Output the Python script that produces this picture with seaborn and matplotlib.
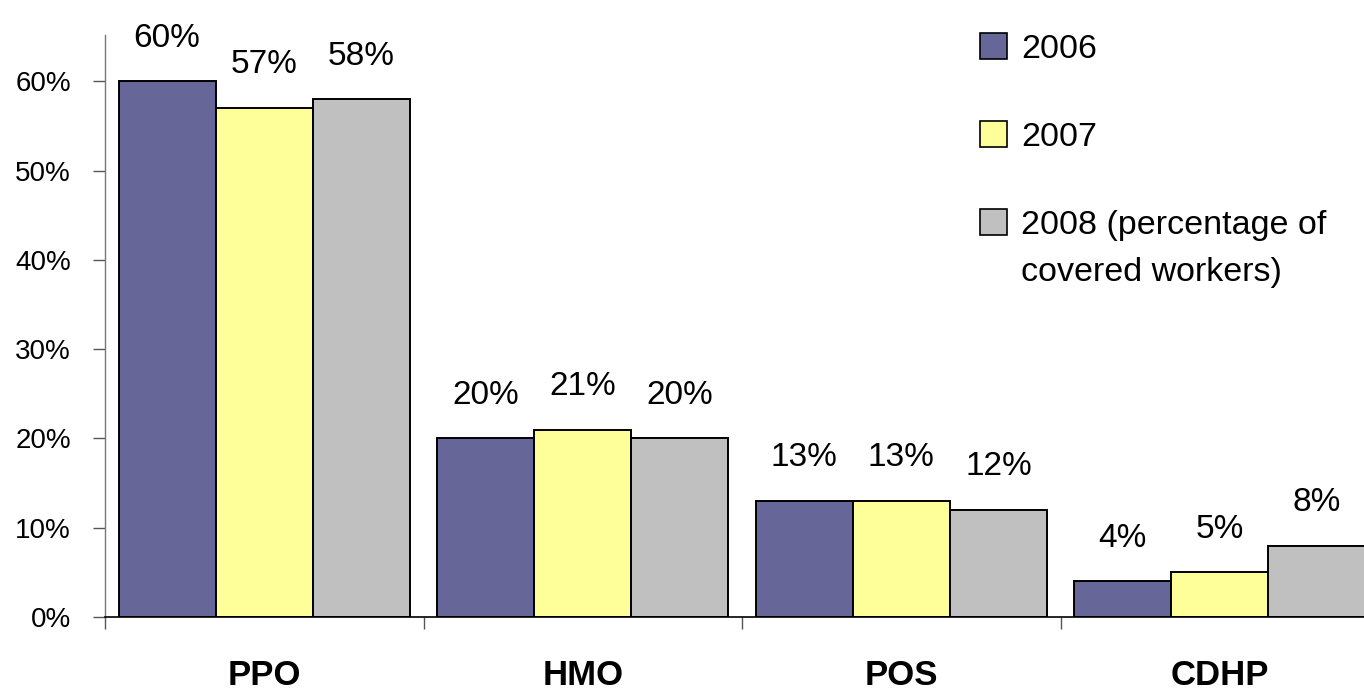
import matplotlib
matplotlib.use("Agg")
import matplotlib.pyplot as plt
import seaborn as sns
import pandas as pd
from matplotlib.patches import Patch
from matplotlib.ticker import PercentFormatter
from matplotlib.transforms import blended_transform_factory

plans = ["PPO", "HMO", "POS", "CDHP"]
years = ["2006", "2007", "2008"]
legend_labels = ["2006", "2007", "2008 (percentage of"]
legend_note = "covered workers)"
share_2006 = [60, 20, 13, 4]
share_2007 = [57, 21, 13, 5]
share_2008 = [58, 20, 12, 8]
colors = ["#666699", "#FFFF99", "#C0C0C0"]

rows = []
for year, vals in zip(years, [share_2006, share_2007, share_2008]):
    for plan, v in zip(plans, vals):
        rows.append({"plan": plan, "year": year, "share": v})
df = pd.DataFrame(rows)

sns.set_theme(style="white")
plt.rcParams["font.family"] = ["Liberation Sans", "DejaVu Sans"]
plt.rcParams["text.color"] = "black"
plt.rcParams["xtick.color"] = "black"
plt.rcParams["ytick.color"] = "black"

fig = plt.figure(figsize=(13.64, 6.92), dpi=100)
ax = fig.add_axes([0.077, 0.1084, 0.934, 0.841])

sns.barplot(data=df, x="plan", y="share", hue="year", order=plans,
            hue_order=years, palette=colors, saturation=1, width=0.915,
            gap=0, edgecolor="black", linewidth=1.4, ax=ax, legend=False)

# value labels above each bar
for cont in ax.containers:
    for bar in cont:
        h = bar.get_height()
        ax.annotate(f"{h:.0f}%", (bar.get_x() + bar.get_width() / 2, h),
                    xytext=(0, 25), textcoords="offset points",
                    ha="center", va="baseline", fontsize=24)

ax.set_xlim(-0.5, 3.5)
ax.set_ylim(0, 65.2)
ax.set_yticks(range(0, 61, 10))
ax.yaxis.set_major_formatter(PercentFormatter(decimals=0))
ax.tick_params(axis="y", which="major", left=True, length=8.6, width=1,
               color="#555555", labelsize=20, pad=16)

# group separators on the category axis
ax.set_xticks([-0.5, 0.5, 1.5, 2.5, 3.5])
ax.set_xticklabels([])
ax.tick_params(axis="x", which="major", bottom=True, length=8.6, width=1,
               color="#555555")

# category names below the axis
trans = blended_transform_factory(ax.transData, ax.transAxes)
for i, plan in enumerate(plans):
    ax.text(i, -0.117, plan, transform=trans, ha="center", va="baseline",
            fontsize=25, fontweight="bold")

ax.set_xlabel("")
ax.set_ylabel("")
for side in ["top", "right"]:
    ax.spines[side].set_visible(False)
ax.spines["left"].set_color("#777777")
ax.spines["bottom"].set_color("black")
ax.spines["left"].set_linewidth(1)
ax.spines["bottom"].set_linewidth(1.2)
ax.grid(False)

handles = [Patch(facecolor=c, edgecolor="black", linewidth=1.2) for c in colors]
leg = fig.legend(handles, legend_labels, loc="upper left",
                 bbox_to_anchor=(0.7085, 0.972), frameon=False, fontsize=24.5,
                 handlelength=0.8, handleheight=0.8, handletextpad=0.4,
                 labelspacing=1.65, borderaxespad=0)
fig.canvas.draw()
last = leg.get_texts()[-1].get_window_extent()
fig.text(last.x0 / fig.bbox.width, (last.y0 - 47) / fig.bbox.height,
         legend_note, fontsize=24.5, ha="left", va="bottom")

fig.savefig("out.png", dpi=100)
